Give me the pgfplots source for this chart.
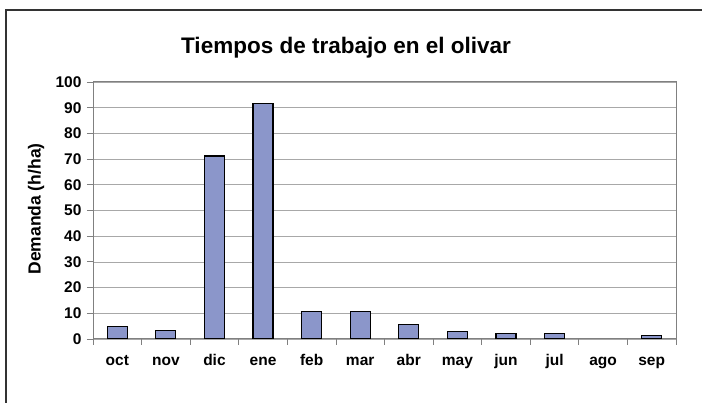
\documentclass[border=0pt]{standalone}
\usepackage{pgfplots}
\pgfplotsset{compat=1.18}
\usepackage{fontspec}
\setmainfont{Liberation Sans}
\definecolor{barfill}{RGB}{139,150,202}
\definecolor{gridc}{RGB}{168,168,168}
\definecolor{axc}{RGB}{128,128,128}
\begin{document}
\begin{tikzpicture}[x=1pt,y=1pt]
\useasboundingbox (0,0) rectangle (702,403);
\fill[white] (0,0) rectangle (702,403);
\draw[line width=1.6pt, black!80] (6,0) -- (6,393) -- (702,393);
\node[font=\fontsize{22.5}{26}\selectfont\bfseries] at (346,355) {Tiempos de trabajo en el olivar};
\node[rotate=90, font=\fontsize{17.5}{20}\selectfont\bfseries] at (36,194) {Demanda (h/ha)};
\begin{axis}[
  at={(93pt,64pt)}, anchor=south west,
  scale only axis, width=583pt, height=257pt,
  xmin=-0.5, xmax=11.5, ymin=0, ymax=100,
  ytick={0,10,...,100},
  xtick={0,...,11},
  xticklabels={oct,nov,dic,ene,feb,mar,abr,may,jun,jul,ago,sep},
  minor xtick={-0.5,0.5,...,11.5},
  xtick pos=bottom, ytick pos=left,
  major x tick style={draw=none},
  minor x tick style={axc, line width=0.8pt},
  minor tick length=6pt,
  ytick style={axc, line width=0.8pt},
  major tick length=6pt,
  tick align=outside,
  ymajorgrids, grid style={gridc, line width=0.6pt},
  axis line style={axc, line width=1pt},
  ticklabel style={font=\fontsize{15.5}{18}\selectfont\bfseries},
  /pgf/number format/assume math mode=true,
  yticklabel style={xshift=-2pt},
  xticklabel style={text height=1.6ex, text depth=0.3ex, yshift=-9pt},
  ybar, bar width=20pt,
]
% ago = 0 (no visible bar)
\addplot[fill=barfill, draw=black, line width=1.1pt] coordinates {
(0,5.0) (1,3.4) (2,71.2) (3,91.8) (4,10.6) (5,10.6) (6,5.8) (7,3.0) (8,2.3) (9,2.3) (11,1.2)
};
\end{axis}
\end{tikzpicture}
\end{document}
